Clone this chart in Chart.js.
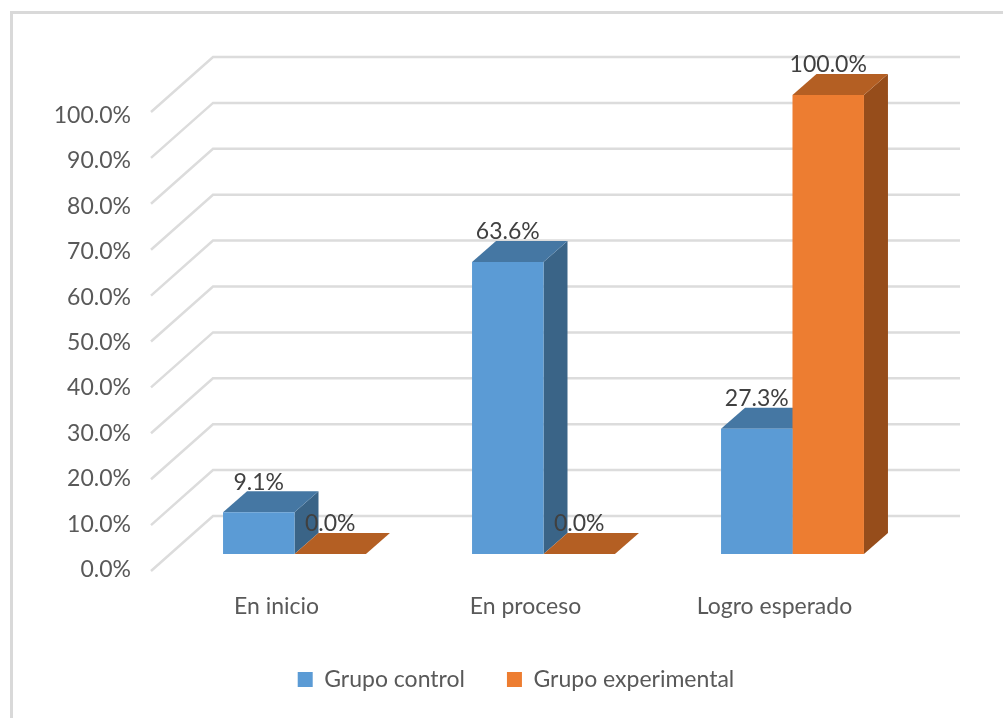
<!DOCTYPE html>
<html>
<head>
<meta charset="utf-8">
<script src="https://cdn.jsdelivr.net/npm/chart.js@4"></script>
<style>
html, body { margin: 0; padding: 0; background: #fff; overflow: hidden; }
#wrap { position: relative; width: 1003px; height: 718px; overflow: hidden; }
#frame { position: absolute; left: 10px; top: 11px; width: 1000px; height: 720px; border: 3px solid #d9d9d9; box-sizing: border-box; }
canvas { position: absolute; left: 0; top: 0; }
</style>
</head>
<body>
<div id="wrap">
<div id="frame"></div>
<canvas id="chartCanvas" width="1003" height="718"></canvas>
</div>
<script>
var categories = ["En inicio", "En proceso", "Logro esperado"];
var grupoControl = [9.1, 63.6, 27.3];
var grupoExperimental = [0.0, 0.0, 100.0];

var fontName = "Lato";
var gridColor = "#dcdcdc";

function fmt(v) {
    return v.toFixed(1) + "%";
}

function fillPoly(ctx, color, pts) {
    ctx.fillStyle = color;
    ctx.beginPath();
    ctx.moveTo(pts[0][0], pts[0][1]);
    for (var i = 1; i < pts.length; i++) ctx.lineTo(pts[i][0], pts[i][1]);
    ctx.closePath();
    ctx.fill();
}

// walls of the 3d box, sides of the bars
var box3d = {
    id: "box3d",
    beforeDatasetsDraw: function (chart) {
        var ctx = chart.ctx;
        var y = chart.scales.y;
        var area = chart.chartArea;
        ctx.save();
        ctx.strokeStyle = gridColor;
        ctx.lineWidth = 2.5;
        y.ticks.forEach(function (t) {
            var p = y.getPixelForValue(t.value);
            ctx.beginPath();
            ctx.moveTo(area.left - 19, p + 17);
            ctx.lineTo(area.left + 43, p - 38);
            ctx.lineTo(area.right + 43, p - 38);
            ctx.stroke();
        });
        var tops = ["#4577a3", "#b45f23"];
        var sides = ["#3a6487", "#964d1b"];
        var dx = 24, dy = 21;
        chart.data.datasets.forEach(function (ds, d) {
            chart.getDatasetMeta(d).data.forEach(function (bar) {
                var l = bar.x - bar.width / 2, r = bar.x + bar.width / 2;
                fillPoly(ctx, sides[d], [[r, bar.y], [r + dx, bar.y - dy], [r + dx, bar.base - dy], [r, bar.base]]);
                fillPoly(ctx, tops[d], [[l, bar.y], [l + dx, bar.y - dy], [r + dx, bar.y - dy], [r, bar.y]]);
            });
        });
        ctx.restore();
    },
    afterDatasetsDraw: function (chart) {
        var ctx = chart.ctx;
        var y = chart.scales.y;
        ctx.save();
        ctx.font = "23px " + fontName;
        ctx.textBaseline = "middle";
        // tick labels sit on the front edge of the floor
        ctx.fillStyle = "#595959";
        ctx.textAlign = "right";
        y.ticks.forEach(function (t) {
            var p = y.getPixelForValue(t.value);
            ctx.fillText(t.label, 131, 570 - (y.bottom - p) * 0.991);
        });
        // value labels
        ctx.fillStyle = "#404040";
        ctx.textAlign = "center";
        chart.data.datasets.forEach(function (ds, d) {
            chart.getDatasetMeta(d).data.forEach(function (bar, i) {
                ctx.fillText(fmt(ds.data[i]), bar.x, bar.y - 30);
            });
        });
        ctx.restore();
    }
};

new Chart(document.getElementById("chartCanvas").getContext("2d"), {
    type: "bar",
    data: {
        labels: categories,
        datasets: [
            { label: "Grupo control", data: grupoControl, backgroundColor: "#5b9bd5" },
            { label: "Grupo experimental", data: grupoExperimental, backgroundColor: "#ed7d31" }
        ]
    },
    options: {
        responsive: false,
        animation: false,
        layout: { padding: { left: 115, right: 86, top: 95, bottom: 17 } },
        categoryPercentage: 0.574,
        barPercentage: 1,
        scales: {
            x: {
                grid: { display: false },
                border: { display: false },
                ticks: { color: "#595959", font: { family: fontName, size: 23 }, padding: 31, labelOffset: -18, maxRotation: 0 },
                afterFit: function (s) { s.height = 72; }
            },
            y: {
                min: 0,
                max: 100,
                grid: { display: false },
                border: { display: false },
                ticks: { display: false, stepSize: 10, callback: function (v) { return fmt(v); } },
                afterFit: function (s) { s.width = 55; }
            }
        },
        plugins: {
            legend: {
                position: "bottom",
                labels: { color: "#595959", font: { family: fontName, size: 23 }, boxWidth: 15, boxHeight: 15, padding: 42 }
            },
            tooltip: { enabled: false }
        }
    },
    plugins: [box3d]
});
</script>
</body>
</html>
